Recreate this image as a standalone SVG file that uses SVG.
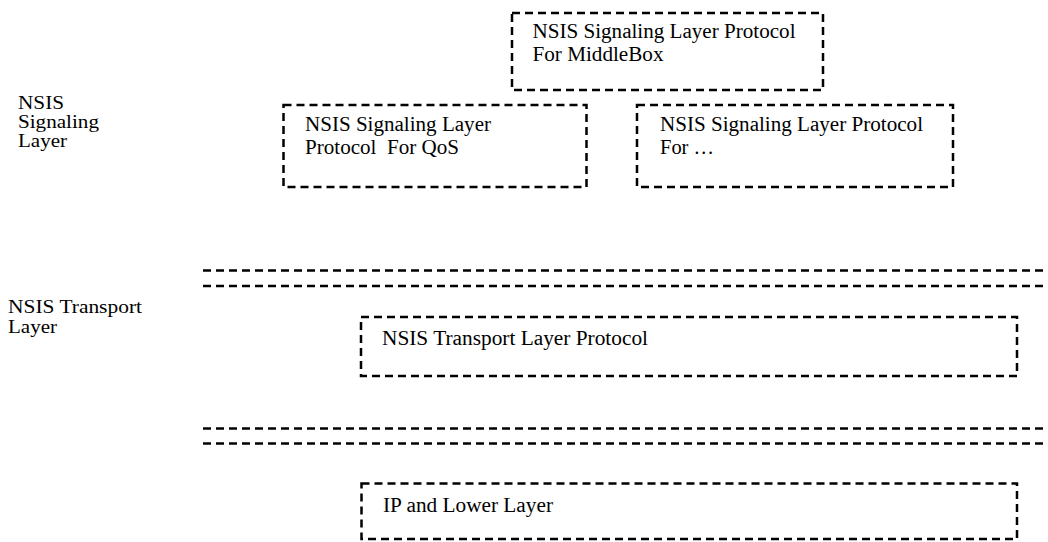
<svg xmlns="http://www.w3.org/2000/svg" width="1048" height="542" viewBox="0 0 1048 542">
  <style>
    .box { fill: none; stroke: #000; stroke-width: 2.5; stroke-dasharray: 8 5; }
    .sep { fill: none; stroke: #000; stroke-width: 2.5; stroke-dasharray: 8 5; }
    .t { font-family: "Liberation Serif", serif; font-size: 20px; fill: #000; }
    .lbl { font-family: "Liberation Serif", serif; font-size: 18px; fill: #000; }
  </style>
  <rect width="1048" height="542" fill="#fff"/>

  <!-- layer names on the left -->
  <g id="label-signaling">
    <text class="lbl" x="18" y="109" textLength="46" lengthAdjust="spacingAndGlyphs">NSIS</text>
    <text class="lbl" x="18" y="127.5" textLength="81" lengthAdjust="spacingAndGlyphs">Signaling</text>
    <text class="lbl" x="18" y="146.5" textLength="49" lengthAdjust="spacingAndGlyphs">Layer</text>
  </g>
  <g id="label-transport">
    <text class="lbl" x="8" y="313" textLength="134" lengthAdjust="spacingAndGlyphs">NSIS Transport</text>
    <text class="lbl" x="8" y="332.5" textLength="49" lengthAdjust="spacingAndGlyphs">Layer</text>
  </g>

  <!-- signaling layer protocols -->
  <g id="nslp-middlebox">
    <rect class="box" x="512" y="13" width="311" height="77"/>
    <text class="t" x="532.5" y="37.5" textLength="263" lengthAdjust="spacingAndGlyphs">NSIS Signaling Layer Protocol</text>
    <text class="t" x="532.5" y="60.5" textLength="131" lengthAdjust="spacingAndGlyphs">For MiddleBox</text>
  </g>
  <g id="nslp-qos">
    <rect class="box" x="283.5" y="105" width="303" height="82"/>
    <text class="t" x="305" y="131" textLength="186" lengthAdjust="spacingAndGlyphs">NSIS Signaling Layer</text>
    <text class="t" x="305" y="153.5" textLength="154" lengthAdjust="spacingAndGlyphs" xml:space="preserve">Protocol  For QoS</text>
  </g>
  <g id="nslp-other">
    <rect class="box" x="637" y="105" width="316" height="82"/>
    <text class="t" x="660" y="131" textLength="263" lengthAdjust="spacingAndGlyphs">NSIS Signaling Layer Protocol</text>
    <text class="t" x="660" y="153.5" textLength="54" lengthAdjust="spacingAndGlyphs">For …</text>
  </g>

  <!-- layer boundaries -->
  <g id="boundaries">
    <line class="sep" x1="203" y1="270.5" x2="1048" y2="270.5"/>
    <line class="sep" x1="203" y1="286" x2="1048" y2="286"/>
    <line class="sep" x1="203" y1="428.5" x2="1048" y2="428.5"/>
    <line class="sep" x1="203" y1="443.5" x2="1048" y2="443.5"/>
  </g>

  <!-- transport layer protocol -->
  <g id="ntlp">
    <rect class="box" x="361" y="317" width="656" height="59"/>
    <text class="t" x="382" y="344.5" textLength="266" lengthAdjust="spacingAndGlyphs">NSIS Transport Layer Protocol</text>
  </g>

  <!-- network layer -->
  <g id="ip-lower">
    <rect class="box" x="361.5" y="483.5" width="655.5" height="55.5"/>
    <text class="t" x="383" y="511.5" textLength="170" lengthAdjust="spacingAndGlyphs">IP and Lower Layer</text>
  </g>
</svg>
